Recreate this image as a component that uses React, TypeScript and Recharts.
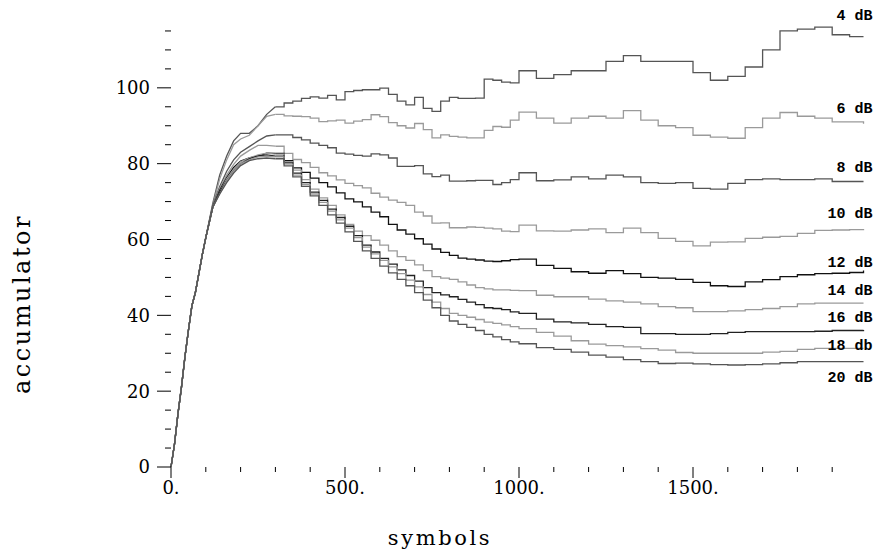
import React from 'react';
import { LineChart, Line, XAxis, YAxis } from 'recharts';

// symbols (shared x grid)
const SYMBOLS = [0, 10, 20, 30, 40, 50, 60, 70, 80, 90, 100, 120, 140, 160, 180, 200,
  225, 250, 275, 300, 325, 350, 375, 400, 425, 450, 475, 500, 525, 550, 575, 600, 625, 650, 675, 700,
  725, 750, 775, 800, 825, 850, 875, 900, 925, 950, 975, 1000,
  1050, 1100, 1150, 1200, 1250, 1300, 1350, 1400, 1450, 1500, 1550, 1600, 1650, 1700, 1750, 1800, 1850, 1900, 1950, 1990];

const RISE = [0, 6, 14, 21, 29, 36, 42.5, 46, 51, 56, 60.5];

const DB4 = [...RISE, 69.5, 77, 82, 86, 88, 88, 90, 93,
  95, 96, 96.5, 97.2, 97.6, 97.3, 98, 96.8, 99, 99.3, 99.5, 99.5, 99.9, 98.3, 96.5, 95.5, 97.5, 94.6, 93.8, 96.5,
  97.5, 97.2, 97.2, 97.3, 102.3, 102, 101.5, 101.3, 104.5,
  102.5, 103.5, 104.5, 104.5, 107, 108.5, 107, 107, 107, 104, 102, 103, 105.5, 110, 115, 115.5, 116, 114, 113.5, 113.5];
const DB6 = [...RISE, 69, 76, 81, 85, 86.5, 87.5, 90, 92.5,
  93, 92.6, 92.5, 92.4, 92, 91.1, 91.3, 91.5, 90.7, 91.2, 91.6, 92.9, 92.4, 90.8, 90, 89.4, 90.6, 89, 86.8, 87.6,
  87.2, 87, 86.8, 86.8, 88.8, 89.8, 89.6, 91.5, 93.6,
  92, 90.7, 92, 92.5, 92, 94, 91.5, 90, 89.5, 87.5, 87, 86.7, 89.5, 92, 93.5, 92.5, 92, 91, 91, 90.5];
const DB8 = [...RISE, 69, 74, 78, 81, 83, 84.5, 86, 87.3,
  87.6, 87.6, 86.9, 86.3, 85.4, 84.8, 84.2, 82.8, 82.5, 82.2, 82, 82.6, 82.3, 81.5, 79.3, 79.3, 79.5, 77.3, 76.6, 77,
  75.4, 75.4, 75.5, 75.6, 75.6, 74.5, 75, 75.8, 77.6,
  75.5, 75.7, 76.5, 76, 77, 76.5, 75, 74.8, 75, 73.5, 73.3, 74.8, 75.8, 76, 75.8, 75.8, 76, 75.3, 75.3, 75.3];
const DB10 = [...RISE, 68.5, 73.5, 77, 79.8, 82, 83.5, 84.8, 84.8,
  84.6, 82.7, 81.1, 80.3, 79, 77.6, 76.8, 75.7, 74.8, 74.2, 73.6, 72.2, 71.2, 70.4, 69.8, 69, 67.2, 66.2, 64.3, 64.4,
  63.1, 63.1, 63.3, 63.2, 63, 62.8, 62.2, 62.1, 63.8,
  62.3, 62.2, 62.5, 62.8, 61.8, 63, 61.8, 60.3, 59.5, 58.3, 59.3, 59.4, 60.3, 60.6, 60.8, 61.6, 62.4, 62.5, 62.6, 62.8];
const DB12 = [...RISE, 68.5, 73, 76.3, 79, 80.7, 81.5, 82, 82.8,
  82.7, 80.8, 78.9, 77.7, 76.2, 75, 73.9, 72.3, 70.7, 69.9, 68.6, 67.2, 66, 64, 62.5, 61.4, 60.2, 58.8, 57.5, 56.6,
  55.8, 55.1, 54.8, 54.6, 54.3, 54.2, 54.4, 54.7, 54.8,
  53.2, 52.4, 51.5, 51.1, 51.8, 51, 50, 49.8, 49.5, 48.7, 47.8, 47.6, 48.8, 49.4, 50.2, 50.7, 51, 51.1, 51.3, 51.8];
const DB14 = [...RISE, 68.5, 72.5, 76, 78.5, 80.5, 81.5, 82.3, 82.8,
  82.5, 80.5, 78.3, 75.8, 73.3, 71, 69, 66.5, 64, 62.2, 61, 59.8, 58.5, 57, 55.5, 54.5, 53.3, 51.8, 50.2, 49.8,
  49.5, 48.8, 48, 47.3, 47, 46.7, 46.7, 46.6, 46.5,
  45.3, 44.9, 44.9, 44.3, 43.8, 43.5, 43, 42.3, 42, 41, 41, 41.2, 41.5, 41.8, 42.3, 43, 43.2, 43.2, 43.2, 43.2];
const DB16 = [...RISE, 68.5, 72.5, 75.5, 78, 80, 81.3, 82, 82.3,
  82, 80.2, 77.5, 75, 72.5, 70.3, 68, 65.8, 63.5, 61, 58.5, 56.7, 55, 53.5, 52, 50.5, 49, 47.3, 46, 45.4,
  44.9, 44.2, 43.5, 42.8, 42, 41.8, 41.5, 40.9, 40.5,
  39, 38.3, 38, 37.6, 37, 36.8, 35.2, 35.2, 35, 35, 35.2, 35.5, 35.7, 35.7, 35.7, 35.7, 35.8, 36, 36, 36.1];
const DB18 = [...RISE, 68.5, 72, 75.5, 78, 80, 81, 81.8, 82,
  81.8, 79.9, 77, 74.5, 72, 69.8, 67.5, 65.2, 63, 60.5, 58, 56.2, 54.5, 52.8, 51, 49.3, 47.5, 45.5, 43.5, 41.8,
  40.5, 40, 39.5, 38.9, 38.2, 37.9, 37.5, 37, 36.5,
  35.5, 34.5, 33.3, 32.4, 32, 31.7, 31.2, 30.8, 30.2, 30, 30, 30, 30, 30.3, 30.5, 31, 31.3, 31.3, 31.3, 31.3];
const DB20 = [...RISE, 68.5, 72, 75, 77.5, 79.5, 80.8, 81.3, 81.5,
  81.3, 79.4, 76.5, 74, 71.5, 69, 66.5, 64.3, 62, 59.5, 57, 55, 53, 51.2, 49.5, 47.8, 46, 44, 42, 40,
  38.5, 37.6, 36.8, 36, 35, 34.3, 33.6, 33, 32.5,
  31.5, 31, 30.3, 29.5, 29, 28.3, 27.8, 27.3, 27.4, 27.2, 27, 26.9, 27, 27.2, 27.5, 27.8, 27.8, 27.8, 27.8, 27.8];

const SERIES_NAMES = ['4 dB', '6 dB', '8 dB', '10 dB', '12 dB', '14 dB', '16 dB', '18 db', '20 dB'];
const SERIES_VALUES = [DB4, DB6, DB8, DB10, DB12, DB14, DB16, DB18, DB20];

const X_TICKS = [0, 100, 200, 300, 400, 500, 600, 700, 800, 900, 1000, 1100, 1200, 1300, 1400, 1500, 1600, 1700, 1800, 1900];
const X_MAJOR = [0, 500, 1000, 1500];
const X_LABELS = ['0.', '500.', '1000.', '1500.'];
const Y_TICKS = [0, 5, 10, 15, 20, 25, 30, 35, 40, 45, 50, 55, 60, 65, 70, 75, 80, 85, 90, 95, 100, 105, 110, 115];
const Y_MAJOR = [0, 20, 40, 60, 80, 100];
const Y_LABELS = ['0', '20', '40', '60', '80', '100'];

// styles
const COLORS = ['#555', '#9a9a9a', '#555', '#9a9a9a', '#111', '#9a9a9a', '#222', '#9a9a9a', '#555'];
const LABEL_DY = [-16.6, -11, -9.5, -11, -3.6, -8, -8, 1.7, 20.4];
const STEP_FROM = 300;
const SERIF = '"DejaVu Serif", serif';
const MONO = '"Liberation Mono", monospace';

const keys = SERIES_NAMES.map((_, i) => 's' + i);
const rows = SYMBOLS.map((x, i) => {
  const r: Record<string, number | null> = { x };
  SERIES_VALUES.forEach((vals, k) => {
    r[keys[k] + 'a'] = x <= STEP_FROM ? vals[i] : null;
    r[keys[k] + 'b'] = x >= STEP_FROM ? vals[i] : null;
  });
  return r;
});
const LAST = rows.length - 1;

const XTick = (props: any) => {
  const { x, y, payload } = props;
  const mi = X_MAJOR.indexOf(payload.value);
  const major = mi >= 0;
  return (
    <g>
      <line x1={x} x2={x} y1={y} y2={y + (major ? 11 : 5)} stroke="#000" strokeWidth={1} />
      {major && (
        <text x={x} y={y + 27} textAnchor="middle" fontFamily={SERIF} fontSize={18} fill="#000">
          {X_LABELS[mi]}
        </text>
      )}
    </g>
  );
};

const YTick = (props: any) => {
  const { x, y, payload } = props;
  const mi = Y_MAJOR.indexOf(payload.value);
  const major = mi >= 0;
  return (
    <g>
      <line x1={x - (major ? 14 : 6)} x2={x} y1={y} y2={y} stroke="#000" strokeWidth={1} />
      {major && (
        <text x={x - 21} y={y} dy="0.36em" textAnchor="end" fontFamily={SERIF} fontSize={18} fill="#000">
          {Y_LABELS[mi]}
        </text>
      )}
    </g>
  );
};

const YLabel = () => (
  <text x={30} y={304} transform="rotate(-90 30 304)" textAnchor="middle" fontFamily={SERIF} fontSize={24}
    letterSpacing={2.5} fill="#000">
    accumulator
  </text>
);

const XLabel = () => (
  <text x={440} y={545} textAnchor="middle" fontFamily={SERIF} fontSize={21} letterSpacing={2.6} fill="#000">
    symbols
  </text>
);

const makeEndLabel = (k: number) => (p: any) => {
  if (p.index !== LAST || p.cx == null) return <g key={`d${k}-${p.index}`} />;
  return (
    <text key={`d${k}-${p.index}`} x={p.cx + 9} y={p.cy + LABEL_DY[k]} textAnchor="end" fontFamily={MONO}
      fontSize={15} fontWeight="bold" fill="#000">
      {SERIES_NAMES[k]}
    </text>
  );
};

export default function App() {
  return (
    <div style={{ position: 'absolute', left: 0, top: 0, width: 880, height: 551, background: '#fff' }}>
      <LineChart width={880} height={551} data={rows} margin={{ top: 12, right: 13, bottom: 0, left: 0 }}>
        <XAxis type="number" dataKey="x" domain={[0, 2000]} ticks={X_TICKS} interval={0} tickSize={0}
          tickMargin={0} axisLine={false} tickLine={false} height={84} tick={XTick} label={<XLabel />} />
        <YAxis type="number" domain={[0, 120]} ticks={Y_TICKS} interval={0} tickSize={0} tickMargin={0}
          axisLine={false} tickLine={false} width={171} tick={YTick} label={<YLabel />} />
        {keys.map((key, k) => (
          <Line key={key + 'a'} dataKey={key + 'a'} type="linear" stroke={COLORS[k]} strokeWidth={1.3}
            dot={false} activeDot={false} isAnimationActive={false} connectNulls={false} />
        ))}
        {keys.map((key, k) => (
          <Line key={key + 'b'} dataKey={key + 'b'} type="stepAfter" stroke={COLORS[k]} strokeWidth={1.3}
            dot={makeEndLabel(k)} activeDot={false} isAnimationActive={false} connectNulls={false} />
        ))}
      </LineChart>
    </div>
  );
}
